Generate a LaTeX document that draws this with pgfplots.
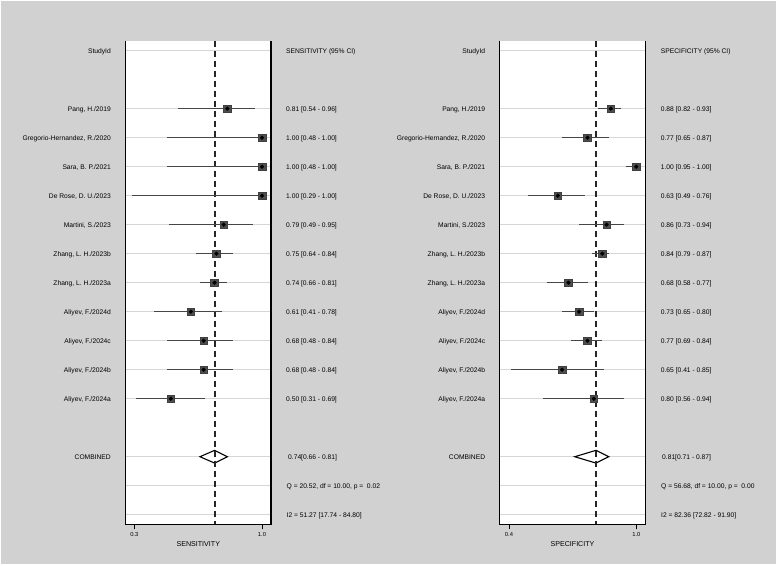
\documentclass[border=0pt]{standalone}
\usepackage{fontspec}
\setmainfont{Liberation Sans}
\usepackage{pgfplots}
\usepackage{pgfplotstable}
\pgfplotsset{compat=1.18}
\definecolor{bg}{RGB}{209,209,209}
\definecolor{gridc}{RGB}{214,214,214}
\definecolor{cic}{RGB}{70,70,70}
\definecolor{boxc}{RGB}{78,78,78}

\pgfplotstableread{
row est lo hi
2 0.81 0.54 0.96
3 1.00 0.48 1.00
4 1.00 0.48 1.00
5 1.00 0.29 1.00
6 0.79 0.49 0.95
7 0.75 0.64 0.84
8 0.74 0.66 0.81
9 0.61 0.41 0.78
10 0.68 0.48 0.84
11 0.68 0.48 0.84
12 0.50 0.31 0.69
}\sens

\pgfplotstableread{
row est lo hi
2 0.88 0.82 0.93
3 0.77 0.65 0.87
4 1.00 0.95 1.00
5 0.63 0.49 0.76
6 0.86 0.73 0.94
7 0.84 0.79 0.87
8 0.68 0.58 0.77
9 0.73 0.65 0.80
10 0.77 0.69 0.84
11 0.65 0.41 0.85
12 0.80 0.56 0.94
}\spec

\pgfplotsset{
  forest/.style={
    scale only axis, height=483.3bp,
    ymin=-16.33, ymax=0.334,
    axis background/.style={fill=white},
    axis line style={draw=none},
    ytick={0,-2,-3,-4,-5,-6,-7,-8,-9,-10,-11,-12,-14,-15,-16},
    yticklabels={},
    ymajorgrids,
    major grid style={gridc, line width=1.3bp},
    ytick style={draw=none},
    xtick pos=lower,
    tick align=outside,
    major tick length=5bp,
    xtick style={black, line width=0.9bp},
    xticklabel style={font=\fontsize{5.8bp}{6.5bp}\selectfont, inner sep=0pt, text height=4.1bp, text depth=0pt, anchor=north, yshift=-3bp},
    clip=false,
  },
  ciplot/.style={only marks, mark=square*, mark size=3.8bp,
    mark options={fill=boxc, draw=black!75, line width=0.6bp},
    error bars/.cd, x dir=both, x explicit, error mark=none,
    error bar style={cic, line width=1.4bp}},
  dotplot/.style={only marks, mark=*, mark size=1.9bp, black},
  pooled/.style={dash pattern=on 6.5bp off 3.5bp, line width=1.9bp, black!85},
  diam/.style={black, fill=white, line width=1.1bp},
}

\tikzset{
  lab/.style={font=\fontsize{6.7bp}{7.5bp}\selectfont, inner sep=0pt, text height=4.8bp, text depth=0pt, text=black},
  axl/.style={font=\fontsize{7.1bp}{8bp}\selectfont, inner sep=0pt, text height=5.1bp, text depth=0pt, text=black},
}

\begin{document}
\begin{tikzpicture}[x=1bp,y=1bp]
\fill[white] (0,0) rectangle (777,566);
\fill[bg] (1.5,1.5) rectangle (775.5,564.5);

% ---------- Sensitivity ----------
\begin{axis}[forest, name=L, at={(125.7bp,41.7bp)}, anchor=south west,
  width=145.3bp, xmin=0.2529, xmax=1.0493,
  xtick={0.3,1.0}, xticklabels={0.3,1.0}]
\addplot[diam] coordinates {(0.66,-14) (0.74,-13.78) (0.81,-14) (0.74,-14.22)} --cycle;
\addplot[pooled] coordinates {(0.74,0.334) (0.74,-16.33)};
\addplot[ciplot] table[x=est, y expr=-\thisrow{row},
  x error plus expr=\thisrow{hi}-\thisrow{est},
  x error minus expr=\thisrow{est}-\thisrow{lo}] {\sens};
\addplot[dotplot] table[x=est, y expr=-\thisrow{row}] {\sens};
\end{axis}
\draw[black, line width=1.3bp] (L.north west) -- (L.south west) -- (L.south east) -- (L.north east);

% ---------- Specificity ----------
\begin{axis}[forest, name=R, at={(499.7bp,41.7bp)}, anchor=south west,
  width=145.6bp, xmin=0.3562, xmax=1.0424,
  xtick={0.4,1.0}, xticklabels={0.4,1.0}]
\addplot[diam] coordinates {(0.71,-14) (0.81,-13.78) (0.87,-14) (0.81,-14.22)} --cycle;
\addplot[pooled] coordinates {(0.81,0.334) (0.81,-16.33)};
\addplot[ciplot] table[x=est, y expr=-\thisrow{row},
  x error plus expr=\thisrow{hi}-\thisrow{est},
  x error minus expr=\thisrow{est}-\thisrow{lo}] {\spec};
\addplot[dotplot] table[x=est, y expr=-\thisrow{row}] {\spec};
\end{axis}
\draw[black, line width=1.3bp] (R.north west) -- (R.south west) -- (R.south east) -- (R.north east);

% ---------- study labels ----------
\foreach \xx in {111,485.3}{
  \node[lab, anchor=east] at (\xx,515.3) {StudyId};
  \foreach \s [count=\i from 2] in {{Pang, H./2019},{Gregorio-Hernandez, R./2020},{Sara, B. P./2021},{De Rose, D. U./2023},{Martini, S./2023},{Zhang, L. H./2023b},{Zhang, L. H./2023a},{Aliyev, F./2024d},{Aliyev, F./2024c},{Aliyev, F./2024b},{Aliyev, F./2024a}}{
    \node[lab, anchor=east] at ({\xx},{515.3-29*\i}) {\s};
  }
  \node[lab, anchor=east] at (\xx,{515.3-29*14}) {COMBINED};
}

% ---------- right columns ----------
\node[lab, anchor=west] at (286,515.3) {SENSITIVITY (95\% CI)};
\foreach \s [count=\i from 2] in {{0.81 [0.54 - 0.96]},{1.00 [0.48 - 1.00]},{1.00 [0.48 - 1.00]},{1.00 [0.29 - 1.00]},{0.79 [0.49 - 0.95]},{0.75 [0.64 - 0.84]},{0.74 [0.66 - 0.81]},{0.61 [0.41 - 0.78]},{0.68 [0.48 - 0.84]},{0.68 [0.48 - 0.84]},{0.50 [0.31 - 0.69]}}{
  \node[lab, anchor=west] at (286,{515.3-29*\i}) {\s};
}
\node[lab, anchor=west] at (288,{515.3-29*14}) {0.74[0.66 - 0.81]};
\node[lab, anchor=west] at (286.5,{515.3-29*15}) {Q = 20.52, df = 10.00, p =~~0.02};
\node[lab, anchor=west] at (286.5,{515.3-29*16}) {I2 = 51.27 [17.74 - 84.80]};

\node[lab, anchor=west] at (660.7,515.3) {SPECIFICITY (95\% CI)};
\foreach \s [count=\i from 2] in {{0.88 [0.82 - 0.93]},{0.77 [0.65 - 0.87]},{1.00 [0.95 - 1.00]},{0.63 [0.49 - 0.76]},{0.86 [0.73 - 0.94]},{0.84 [0.79 - 0.87]},{0.68 [0.58 - 0.77]},{0.73 [0.65 - 0.80]},{0.77 [0.69 - 0.84]},{0.65 [0.41 - 0.85]},{0.80 [0.56 - 0.94]}}{
  \node[lab, anchor=west] at (660.7,{515.3-29*\i}) {\s};
}
\node[lab, anchor=west] at (662,{515.3-29*14}) {0.81[0.71 - 0.87]};
\node[lab, anchor=west] at (661,{515.3-29*15}) {Q = 56.68, df = 10.00, p =~~0.00};
\node[lab, anchor=west] at (661,{515.3-29*16}) {I2 = 82.36 [72.82 - 91.90]};

% ---------- axis titles ----------
\node[axl] at (198.3,21.7) {SENSITIVITY};
\node[axl] at (572.5,21.7) {SPECIFICITY};

\pgfresetboundingbox
\path[use as bounding box] (0,0) rectangle (777,566);
\end{tikzpicture}
\end{document}
